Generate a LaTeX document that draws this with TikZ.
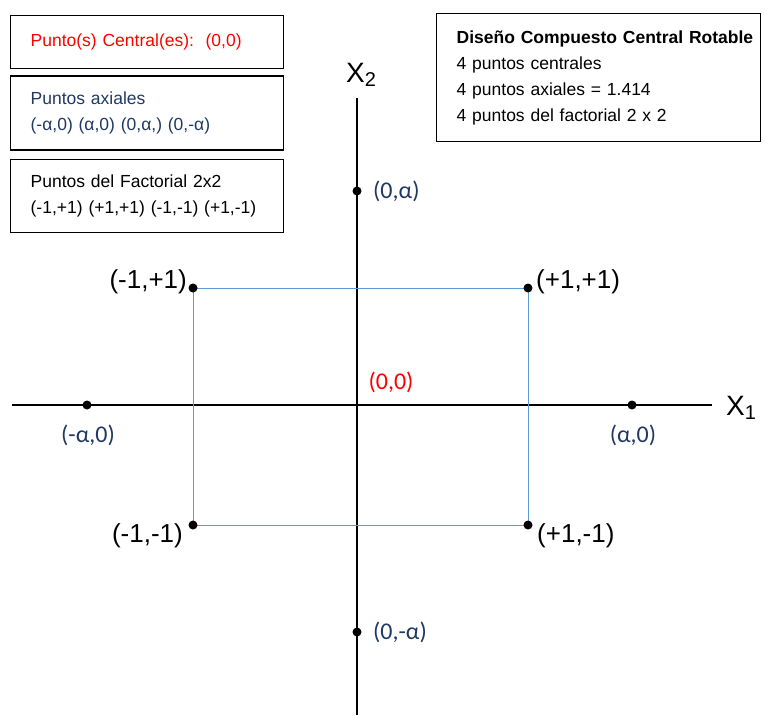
\documentclass[tikz,border=0pt]{standalone}
\usepackage{fontspec}
\setmainfont{Liberation Sans}
\newfontfamily\calibfont{Carlito}
\usetikzlibrary{positioning}
\definecolor{ptnavy}{HTML}{1F3864}
\definecolor{ptred}{HTML}{FF0000}
\definecolor{rectblue}{HTML}{5B9BD5}

\begin{document}
\begin{tikzpicture}[
    x=1pt, y=-1pt,
    legendbox/.style={draw, line width=1.3pt, anchor=north west, align=left,
        text width=233pt, inner xsep=20pt, inner ysep=0pt, minimum width=273pt,
        font=\fontsize{17.5}{26.5}\selectfont},
    infobox/.style={draw, line width=1.3pt, anchor=north west, align=left,
        text width=284pt, inner xsep=20pt, inner ysep=0pt, minimum width=324pt,
        minimum height=128pt, font=\fontsize{17.5}{26}\selectfont},
    dot/.style={circle, fill=black, inner sep=0pt, minimum size=9pt},
    cornerlabel/.style={inner sep=0pt, font=\fontsize{26}{26}\selectfont},
    axlabel/.style={inner sep=0pt, text=ptnavy, font=\calibfont\fontsize{24}{24}\selectfont},
    axisname/.style={inner sep=0pt, font=\fontsize{28}{28}\selectfont},
    axisline/.style={line width=1.4pt},
    factline/.style={draw=rectblue, line width=1pt}
]
\useasboundingbox (0,0) rectangle (765,715);

% legend boxes, top left
\node[legendbox, minimum height=53pt, text=ptred] (central) at (10,15)
  {Punto(s) Central(es):\ \ (0,0)};
\node[legendbox, minimum height=74pt, text=ptnavy, below=6pt of central] (axial)
  {Puntos axiales\\(-α,0) (α,0) (0,α,) (0,-α)};
\node[legendbox, minimum height=73pt, below=8pt of axial] (factorial)
  {Puntos del Factorial 2x2\\(-1,+1) (+1,+1) (-1,-1) (+1,-1)};

% design summary, top right
\node[infobox] (summary) at (436,13)
  {\mbox{\textbf{Diseño Compuesto Central Rotable}}\\
   4 puntos centrales\\
   4 puntos axiales = 1.414\\
   4 puntos del factorial 2 x 2};

% axes
\coordinate (origin) at (357,405);
\coordinate (xstart) at (12,405);
\coordinate (xend) at (712,405);
\coordinate (ytop) at (357,98);
\coordinate (ybot) at (357,715);
\draw[axisline] (xstart) -- (xend);
\draw[axisline] (ytop) -- (ybot);
\node[axisname] (xname) at (741,408) {X\raisebox{-0.3ex}{\fontsize{20}{20}\selectfont 1}};
\node[axisname] (yname) at (361,75) {X\raisebox{-0.3ex}{\fontsize{20}{20}\selectfont 2}};

% factorial square 2x2
\coordinate (mp) at (193,288);
\coordinate (pp) at (528,288);
\coordinate (mm) at (193,525);
\coordinate (pm) at (528,525);
\draw[factline] (mp) -- (pp) -- (pm) -- (mm) -- cycle;
\node[dot] (mpdot) at (mp) {};
\node[dot] (ppdot) at (pp) {};
\node[dot] (mmdot) at (mm) {};
\node[dot] (pmdot) at (pm) {};
\node[cornerlabel, anchor=base east] (mplab) at ([xshift=-6pt]mp) {(-1,+1)};
\node[cornerlabel, anchor=base west] (pplab) at ([xshift=8pt]pp) {(+1,+1)};
\node[cornerlabel, anchor=base east] (mmlab) at ([xshift=-10pt,yshift=-17pt]mm) {(-1,-1)};
\node[cornerlabel, anchor=base west] (pmlab) at ([xshift=9pt,yshift=-17pt]pm) {(+1,-1)};

% axial points
\node[dot] (zap) at (357,191) {};
\node[dot] (zam) at (357,632) {};
\node[dot] (maz) at (87,405) {};
\node[dot] (paz) at (632,405) {};
\node[axlabel, anchor=west] (zaplab) at ([xshift=16pt]zap.center) {(0,α)};
\node[axlabel, anchor=west] (zamlab) at ([xshift=16pt]zam.center) {(0,-α)};
\node[axlabel] (mazlab) at ([xshift=1pt,yshift=-30pt]maz.center) {(-α,0)};
\node[axlabel] (pazlab) at ([xshift=1pt,yshift=-30pt]paz.center) {(α,0)};

% centre point
\node[axlabel, text=ptred] (originlab) at ([xshift=34pt,yshift=23pt]origin) {(0,0)};
\end{tikzpicture}
\end{document}
